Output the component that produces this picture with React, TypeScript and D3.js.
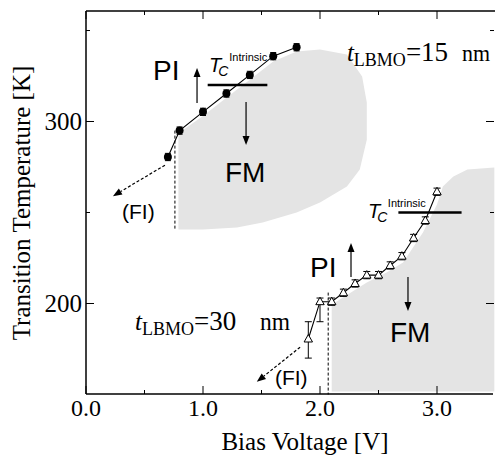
import React from "react";
import * as d3 from "d3";

// 15 nm sample (filled circles)
const v15 = [0.7, 0.8, 1.0, 1.2, 1.4, 1.6, 1.8];
const t15 = [280.5, 295, 305.3, 315.4, 325.6, 335.9, 340.8];
const e15 = [2, 2, 2, 2, 2, 2, 2];

// 30 nm sample (open triangles)
const v30 = [1.9, 2.0, 2.1, 2.2, 2.3, 2.4, 2.5, 2.6, 2.7, 2.8, 2.9, 3.0];
const t30 = [180.5, 201, 201, 205.9, 211, 215.6, 215.6, 220.9, 226, 236, 245.6, 261.4];
const e30Hi = [9.5, 2, 2, 2, 2, 2, 2, 2, 2, 2, 2, 2];
const e30Lo = [10.5, 11, 2, 2, 2, 2, 2, 2, 2, 2, 2, 2];

// FM regions (V, T)
const fm15V = [0.79, 1.0, 1.2, 1.4, 1.6, 1.8, 2.0, 2.23, 2.36, 2.4, 2.4, 2.34, 2.23, 2.0, 1.8, 1.51, 1.29, 1.0, 0.79];
const fm15T = [293.5, 303, 313, 323, 333, 338.5, 339.6, 336.8, 324.7, 310.4, 290, 273.6, 264.3, 255.5, 250, 244.5, 241.8, 240.7, 240.7];
const fm30V = [2.1, 2.17, 2.4, 2.57, 2.71, 2.88, 3.0, 3.05, 3.14, 3.26, 3.49, 3.49, 2.1];
const fm30T = [199.5, 202.2, 211.5, 217, 222.5, 239, 254.4, 264.3, 269.8, 273.6, 274.7, 151.6, 151.6];

const xTicks = [0, 1, 2, 3];
const xMinor = [0.5, 1.5, 2.5];
const yTicks = [200, 300];
const yMinor = [250, 350];

const tcIntrinsic15 = 320;
const tcIntrinsic30 = 250;

const W = 495;
const H = 455;

export default function App() {
  const x = d3.scaleLinear().domain([0, 3.5]).range([86, 495.5]);
  const y = d3.scaleLinear().domain([150, 361]).range([394.5, 10.5]);
  const line = d3.line<[number, number]>().x((d) => x(d[0])).y((d) => y(d[1]));
  const area15 = d3.line<number>().x((_, i) => x(fm15V[i])).y((_, i) => y(fm15T[i]));
  const area30 = d3.line<number>().x((_, i) => x(fm30V[i])).y((_, i) => y(fm30T[i]));
  const serif = "'Liberation Serif', 'Times New Roman', serif";
  const sans = "'Liberation Sans', Arial, sans-serif";
  const x0 = 86, x1 = 495, yb = 394, yt = 11;

  const arrow = (xa: number, ya: number, xb: number, yb2: number, dashed = false, key = "") => {
    const ang = Math.atan2(yb2 - ya, xb - xa);
    const L = 9, w = 3.5;
    const bx = xb - L * Math.cos(ang), by = yb2 - L * Math.sin(ang);
    const px = -Math.sin(ang) * w, py = Math.cos(ang) * w;
    return (
      <g key={key}>
        <line x1={xa} y1={ya} x2={bx} y2={by} stroke="#000" strokeWidth={1.2} strokeDasharray={dashed ? "3,2" : undefined} />
        <path d={`M${xb},${yb2}L${bx + px},${by + py}L${bx - px},${by - py}Z`} fill="#000" />
      </g>
    );
  };

  const tri = (cx: number, cy: number) => `M${cx},${cy - 4.5}L${cx + 4.2},${cy + 3}L${cx - 4.2},${cy + 3}Z`;

  return (
    <svg width={W} height={H} style={{ position: "absolute", left: 0, top: 0, background: "#fff" }}>
      <rect width={W} height={H} fill="#fff" />
      {/* FM regions */}
      <path d={area15(fm15V)! + "Z"} fill="#e4e4e4" />
      <path d={area30(fm30V)! + "Z"} fill="#e4e4e4" />

      {/* axes frame */}
      <line x1={x0} y1={yt} x2={x0} y2={yb} stroke="#000" strokeWidth={1.5} />
      <line x1={x0} y1={yb} x2={493} y2={yb} stroke="#000" strokeWidth={1.5} />
      <line x1={x0} y1={yt} x2={x1} y2={yt} stroke="#000" strokeWidth={1.5} />
      {xTicks.map((t) => (
        <g key={"xt" + t}>
          <line x1={x(t)} x2={x(t)} y1={yb} y2={yb - 8} stroke="#000" strokeWidth={1} />
          <line x1={x(t)} x2={x(t)} y1={yt} y2={yt + 8} stroke="#000" strokeWidth={1} />
          <text x={x(t)} y={416} textAnchor="middle" fontFamily={serif} fontSize={24}>{t.toFixed(1)}</text>
        </g>
      ))}
      {xMinor.map((t) => (
        <g key={"xm" + t}>
          <line x1={x(t)} x2={x(t)} y1={yb} y2={yb - 4} stroke="#000" strokeWidth={1} />
          <line x1={x(t)} x2={x(t)} y1={yt} y2={yt + 4} stroke="#000" strokeWidth={1} />
        </g>
      ))}
      {yTicks.map((t) => (
        <g key={"yt" + t}>
          <line x1={x0} x2={x0 + 8} y1={y(t)} y2={y(t)} stroke="#000" strokeWidth={1} />
          <line x1={494} x2={486} y1={y(t)} y2={y(t)} stroke="#000" strokeWidth={1} />
          <text x={82} y={y(t)} dy="0.35em" textAnchor="end" fontFamily={serif} fontSize={25}>{t}</text>
        </g>
      ))}
      {yMinor.map((t) => (
        <g key={"ym" + t}>
          <line x1={x0} x2={x0 + 4} y1={y(t)} y2={y(t)} stroke="#000" strokeWidth={1} />
          <line x1={494} x2={490} y1={y(t)} y2={y(t)} stroke="#000" strokeWidth={1} />
        </g>
      ))}
      <text x={305} y={450} textAnchor="middle" fontFamily={serif} fontSize={25}>Bias Voltage [V]</text>
      <text transform={`translate(30,203) rotate(-90)`} textAnchor="middle" fontFamily={serif} fontSize={25}>Transition Temperature [K]</text>

      {/* dashed boundaries */}
      <line x1={x(0.76)} x2={x(0.76)} y1={y(295)} y2={y(240.7)} stroke="#000" strokeWidth={1} strokeDasharray="3,2" />
      <line x1={x(2.07)} x2={x(2.07)} y1={y(206)} y2={y(150)} stroke="#000" strokeWidth={1} strokeDasharray="3,2" />
      {arrow(x(0.675), y(276), x(0.23), y(259), true, "da1")}
      {arrow(x(1.83), y(176), x(1.46), y(157), true, "da2")}

      {/* Tc intrinsic lines */}
      <line x1={x(1.04)} x2={x(1.55)} y1={y(tcIntrinsic15)} y2={y(tcIntrinsic15)} stroke="#000" strokeWidth={2.5} />
      <line x1={x(2.67)} x2={x(3.21)} y1={y(tcIntrinsic30)} y2={y(tcIntrinsic30)} stroke="#000" strokeWidth={2.5} />

      {/* 15 nm series */}
      <path d={line(v15.map((v, i) => [v, t15[i]] as [number, number]))!} fill="none" stroke="#000" strokeWidth={1.1} />
      {v15.map((v, i) => (
        <g key={"p15" + i}>
          <line x1={x(v)} x2={x(v)} y1={y(t15[i] + e15[i])} y2={y(t15[i] - e15[i])} stroke="#000" strokeWidth={1} />
          <line x1={x(v) - 3} x2={x(v) + 3} y1={y(t15[i] + e15[i])} y2={y(t15[i] + e15[i])} stroke="#000" strokeWidth={1} />
          <line x1={x(v) - 3} x2={x(v) + 3} y1={y(t15[i] - e15[i])} y2={y(t15[i] - e15[i])} stroke="#000" strokeWidth={1} />
          <circle cx={x(v)} cy={y(t15[i])} r={4} fill="#000" />
        </g>
      ))}

      {/* 30 nm series */}
      <path d={line(v30.map((v, i) => [v, t30[i]] as [number, number]))!} fill="none" stroke="#000" strokeWidth={1.1} />
      {v30.map((v, i) => (
        <g key={"p30" + i}>
          <line x1={x(v)} x2={x(v)} y1={y(t30[i] + e30Hi[i])} y2={y(t30[i] - e30Lo[i])} stroke="#000" strokeWidth={1} />
          <line x1={x(v) - 3.5} x2={x(v) + 3.5} y1={y(t30[i] + e30Hi[i])} y2={y(t30[i] + e30Hi[i])} stroke="#000" strokeWidth={1} />
          <line x1={x(v) - 3.5} x2={x(v) + 3.5} y1={y(t30[i] - e30Lo[i])} y2={y(t30[i] - e30Lo[i])} stroke="#000" strokeWidth={1} />
          <path d={tri(x(v), y(t30[i]))} fill="#fff" stroke="#000" strokeWidth={1} />
        </g>
      ))}

      {/* phase arrows */}
      {arrow(x(0.949), y(310.2), x(0.949), y(329.4), false, "a1")}
      {arrow(x(1.368), y(310.7), x(1.368), y(287.1), false, "a2")}
      {arrow(x(2.265), y(214.6), x(2.265), y(233.2), false, "a3")}
      {arrow(x(2.752), y(214.6), x(2.752), y(195.9), false, "a4")}

      {/* labels */}
      <text x={x(0.573)} y={y(323)} fontFamily={sans} fontSize={28}>PI</text>
      <text x={x(1.188)} y={y(266.5)} fontFamily={sans} fontSize={28}>FM</text>
      <text x={x(0.308)} y={y(246.7)} fontFamily={sans} fontSize={21}>(FI)</text>
      <text x={x(1.051)} y={y(327)} fontFamily={sans} fontSize={20}>
        <tspan fontStyle="italic">T</tspan>
        <tspan fontStyle="italic" fontSize={14} dx={-3} dy={4}>C</tspan>
      </text>
      <text x={x(1.225)} y={y(333.2)} fontFamily={sans} fontSize={11}>Intrinsic</text>
      <text x={x(2.23)} y={y(333)} fontFamily={serif} fontSize={25}>
        <tspan fontStyle="italic">t</tspan>
        <tspan fontSize={18} dy={5}>LBMO</tspan>
        <tspan fontSize={27} dy={-5}>=15</tspan>
      </text>
      <text x={x(3.214)} y={y(333)} fontFamily={serif} fontSize={23} textLength={28} lengthAdjust="spacingAndGlyphs">nm</text>
      <text x={x(0.419)} y={y(185.7)} fontFamily={serif} fontSize={25}>
        <tspan fontStyle="italic">t</tspan>
        <tspan fontSize={18} dy={5}>LBMO</tspan>
        <tspan fontSize={27} dy={-5}>=30</tspan>
      </text>
      <text x={x(1.487)} y={y(185.7)} fontFamily={serif} fontSize={25} textLength={30} lengthAdjust="spacingAndGlyphs">nm</text>
      <text x={x(1.915)} y={y(214.8)} fontFamily={sans} fontSize={28}>PI</text>
      <text x={x(2.598)} y={y(179)} fontFamily={sans} fontSize={28}>FM</text>
      <text x={x(1.615)} y={y(155)} fontFamily={sans} fontSize={21}>(FI)</text>
      <text x={x(2.41)} y={y(247)} fontFamily={sans} fontSize={20}>
        <tspan fontStyle="italic">T</tspan>
        <tspan fontStyle="italic" fontSize={14} dx={-3} dy={4}>C</tspan>
      </text>
      <text x={x(2.58)} y={y(253)} fontFamily={sans} fontSize={11}>Intrinsic</text>
    </svg>
  );
}
